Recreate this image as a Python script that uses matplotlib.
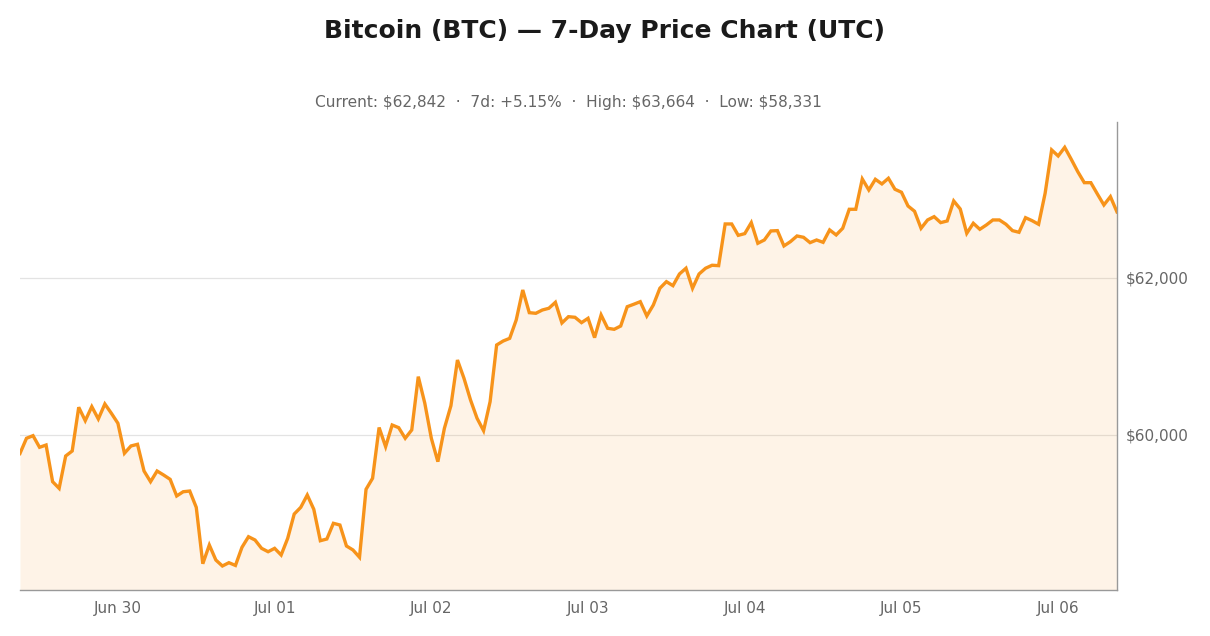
import matplotlib
matplotlib.use("Agg")
import matplotlib.pyplot as plt
import matplotlib.dates as mdates
from matplotlib.ticker import FuncFormatter
import pandas as pd

plt.rcParams["font.family"] = ["DejaVu Sans"]

# hourly BTC prices (USD)
prices = [
    59764, 59958, 59991, 59843, 59872, 59405, 59320, 59732, 59796, 60353,
    60182, 60361, 60204, 60395, 60276, 60149, 59767, 59860, 59881, 59541,
    59405, 59541, 59490, 59435, 59223, 59277, 59286, 59078, 58360, 58598,
    58407, 58331, 58373, 58338, 58569, 58704, 58662, 58556, 58513, 58556,
    58471, 58683, 58993, 59078, 59235, 59053, 58653, 58675, 58875, 58853,
    58586, 58535, 58442, 59308, 59448, 60095, 59851, 60127, 60093, 59958,
    60064, 60743, 60404, 59958, 59660, 60085, 60373, 60955, 60722, 60446,
    60213, 60055, 60424, 61146, 61197, 61231, 61465, 61847, 61558, 61550,
    61592, 61614, 61690, 61427, 61507, 61499, 61431, 61486, 61240, 61529,
    61359, 61346, 61388, 61634, 61665, 61698, 61516, 61656, 61869, 61953,
    61902, 62051, 62124, 61869, 62051, 62124, 62162, 62157, 62688, 62688,
    62543, 62565, 62705, 62442, 62484, 62599, 62603, 62408, 62463, 62535,
    62518, 62450, 62484, 62454, 62612, 62548, 62633, 62875, 62875, 63261,
    63121, 63257, 63198, 63270, 63130, 63092, 62917, 62850, 62633, 62739,
    62781, 62705, 62726, 62981, 62879, 62569, 62697, 62620, 62675, 62739,
    62739, 62684, 62603, 62582, 62768, 62730, 62684, 63079, 63631, 63554,
    63664, 63512, 63354, 63214, 63214, 63070, 62930, 63036, 62842,
]
times = pd.date_range("2024-06-29 09:00", periods=len(prices), freq="h")

title = "Bitcoin (BTC) \u2014 7-Day Price Chart (UTC)"
subtitle = ("Current: $62,842  \u00b7  7d: +5.15%  \u00b7  "
            "High: $63,664  \u00b7  Low: $58,331")
y_ticks = [60000, 62000]
y_range = (58025, 63987)

btc_orange = "#F7931A"

fig = plt.figure(figsize=(12.1, 6.36), dpi=100)
ax = fig.add_axes([0.0165, 0.0723, 0.9066, 0.7359])

ax.fill_between(times, prices, y_range[0], color=btc_orange, alpha=0.1, linewidth=0)
ax.plot(times, prices, color=btc_orange, linewidth=2.4, solid_joinstyle="miter")

ax.set_xlim(times[0], times[-1])
ax.set_ylim(*y_range)

ax.yaxis.tick_right()
ax.set_yticks(y_ticks)
ax.yaxis.set_major_formatter(FuncFormatter(lambda v, p: f"${v:,.0f}"))
ax.xaxis.set_major_locator(mdates.DayLocator())
ax.xaxis.set_major_formatter(mdates.DateFormatter("%b %d"))
ax.tick_params(axis="both", length=0, labelsize=11, labelcolor="#666666")
ax.tick_params(axis="y", pad=6)
ax.tick_params(axis="x", pad=8)

ax.grid(axis="y", color="#e3e3e3", linewidth=0.9)
ax.set_axisbelow(True)
for side in ["left", "top"]:
    ax.spines[side].set_visible(False)
for side in ["right", "bottom"]:
    ax.spines[side].set_color("#999999")
    ax.spines[side].set_linewidth(1.0)

fig.text(0.5, 0.951, title, ha="center", va="center", fontsize=18,
         fontweight="bold", color="#1a1a1a")
ax.set_title(subtitle, fontsize=11.1, color="#666666", pad=11)

fig.savefig("out.png", dpi=100)
